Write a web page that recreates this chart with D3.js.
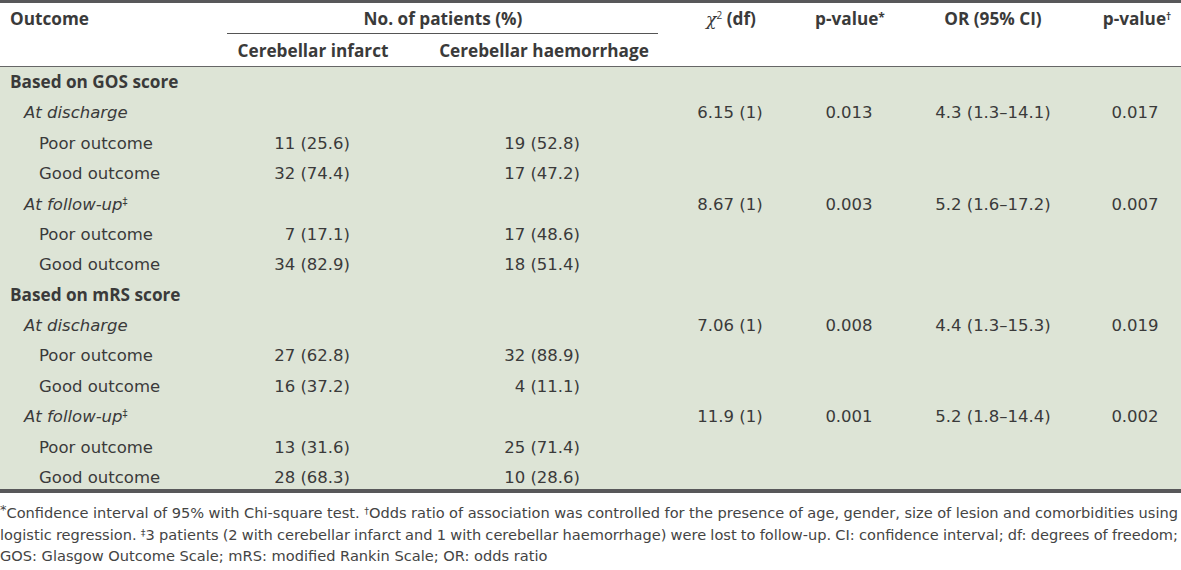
<!DOCTYPE html>
<html><head><meta charset="utf-8">
<script src="https://cdn.jsdelivr.net/npm/d3@7"></script>
<style>body{margin:0;background:#fff}svg{display:block}</style>
</head><body><svg id="c" width="1181" height="570"></svg>
<script>
// ---- data ----
const rowLabels = ["Based on GOS score","At discharge","Poor outcome","Good outcome","At follow-up","Poor outcome","Good outcome",
                   "Based on mRS score","At discharge","Poor outcome","Good outcome","At follow-up","Poor outcome","Good outcome"];
const rowLevels = [0,1,2,2,1,2,2,0,1,2,2,1,2,2];
const rowMarks  = ["","","","","‡","","","","","","","‡","",""];
const infarct     = ["","","11 (25.6)","32 (74.4)","","7 (17.1)","34 (82.9)","","","27 (62.8)","16 (37.2)","","13 (31.6)","28 (68.3)"];
const haemorrhage = ["","","19 (52.8)","17 (47.2)","","17 (48.6)","18 (51.4)","","","32 (88.9)","4 (11.1)","","25 (71.4)","10 (28.6)"];
const chiSquare   = ["","6.15 (1)","","","8.67 (1)","","","","7.06 (1)","","","11.9 (1)","",""];
const pValueChi   = ["","0.013","","","0.003","","","","0.008","","","0.001","",""];
const oddsRatio   = ["","4.3 (1.3–14.1)","","","5.2 (1.6–17.2)","","","","4.4 (1.3–15.3)","","","5.2 (1.8–14.4)","",""];
const pValueOR    = ["","0.017","","","0.007","","","","0.019","","","0.002","",""];
const footnotes = [
  [["*","sup"],["Confidence interval of 95% with Chi-square test. ",""],["†","sup"],["Odds ratio of association was controlled for the presence of age, gender, size of lesion and comorbidities using",""]],
  [["logistic regression. ",""],["‡","sup"],["3 patients (2 with cerebellar infarct and 1 with cerebellar haemorrhage) were lost to follow-up. CI: confidence interval; df: degrees of freedom;",""]],
  [["GOS: Glasgow Outcome Scale; mRS: modified Rankin Scale; OR: odds ratio",""]]
];

// ---- layout ----
const W = 1181;
const BODY_FONT = "'DejaVu Sans', sans-serif";
const BOLD_FONT = "'Open Sans', sans-serif";
const INK = "#3a3a3a";
const svg = d3.select("#c").attr("font-family", BODY_FONT);

const y = d3.scaleLinear().domain([0, rowLabels.length - 1]).range([88, 483]);
const colKeys = ["infarct","haemorrhage","chi","p1","or","p2"];
const colX = d3.scaleOrdinal().domain(colKeys).range([350, 580, 730, 849, 993, 1135]);
const colAnchor = d3.scaleOrdinal().domain(colKeys).range(["end","end","middle","middle","middle","middle"]);
const colData = {infarct, haemorrhage, chi: chiSquare, p1: pValueChi, or: oddsRatio, p2: pValueOR};
const indent = d3.scaleOrdinal().domain([0,1,2]).range([10, 24, 39]);

// background and rules
svg.append("rect").attr("x",0).attr("y",67).attr("width",W).attr("height",489-67).attr("fill","#dde4d6");
svg.append("rect").attr("x",0).attr("y",0).attr("width",W).attr("height",3).attr("fill","#58585a");
svg.append("line").attr("x1",227).attr("x2",658).attr("y1",33.5).attr("y2",33.5).attr("stroke","#555").attr("stroke-width",1);
svg.append("line").attr("x1",0).attr("x2",W).attr("y1",66.5).attr("y2",66.5).attr("stroke","#666").attr("stroke-width",1.2);
svg.append("rect").attr("x",0).attr("y",489).attr("width",W).attr("height",4).attr("fill","#58585a");

// headers
const hdr = svg.append("g").attr("font-family",BOLD_FONT).attr("font-weight","bold").attr("font-size",17.2).attr("fill",INK);
hdr.append("text").attr("x",10).attr("y",25).text("Outcome");
hdr.append("text").attr("x",443).attr("y",25).attr("text-anchor","middle").text("No. of patients (%)");
hdr.append("text").attr("x",313).attr("y",57).attr("text-anchor","middle").text("Cerebellar infarct");
hdr.append("text").attr("x",544).attr("y",57).attr("text-anchor","middle").text("Cerebellar haemorrhage");
const chiH = hdr.append("text").attr("x",731).attr("y",25).attr("text-anchor","middle");
chiH.append("tspan").attr("font-weight","normal").attr("font-family","'DejaVu Serif', serif").attr("font-style","italic").text("χ");
chiH.append("tspan").attr("font-size",10).attr("font-weight","normal").attr("dy",-6).text("2");
chiH.append("tspan").attr("dy",6).text(" (df)");
const p1H = hdr.append("text").attr("x",850).attr("y",25).attr("text-anchor","middle");
p1H.append("tspan").text("p-value");
p1H.append("tspan").attr("font-size",12).attr("dy",-3).text("*");
hdr.append("text").attr("x",993).attr("y",25).attr("text-anchor","middle").text("OR (95% CI)");
const p2H = hdr.append("text").attr("x",1137).attr("y",25).attr("text-anchor","middle");
p2H.append("tspan").text("p-value");
p2H.append("tspan").attr("font-size",10).attr("dy",-5).text("†");

// row labels
const body = svg.append("g").attr("font-size",16.5).attr("fill",INK);
const lab = body.selectAll("text.lab").data(rowLabels).join("text").attr("class","lab")
  .attr("x",(d,i)=>indent(rowLevels[i]))
  .attr("y",(d,i)=>y(i))
  .attr("font-family",(d,i)=>rowLevels[i]===0?BOLD_FONT:BODY_FONT)
  .attr("font-size",(d,i)=>rowLevels[i]===0?17.2:16.5)
  .attr("font-weight",(d,i)=>rowLevels[i]===0?"bold":"normal")
  .attr("font-style",(d,i)=>rowLevels[i]===1?"italic":"normal");
lab.append("tspan").text(d=>d);
lab.each(function(d,i){
  if(rowMarks[i]) d3.select(this).append("tspan").attr("font-size",10).attr("font-style","normal").attr("dy",-5).text(rowMarks[i]);
});

// value cells
colKeys.forEach(k=>{
  body.selectAll("text.c-"+k).data(colData[k]).join("text").attr("class","c-"+k)
    .attr("x",colX(k)).attr("y",(d,i)=>y(i)).attr("text-anchor",colAnchor(k)).text(d=>d);
});

// footnotes
const fy = d3.scaleLinear().domain([0,2]).range([518, 561]);
const fn = svg.append("g").attr("font-size",14.6).attr("fill","#444");
footnotes.forEach((parts,li)=>{
  const t = fn.append("text").attr("x",0).attr("y",fy(li));
  parts.forEach(([s,kind],i)=>{
    const ts = t.append("tspan").text(s);
    if(kind==="sup"){ ts.attr("font-size",s==="*"?13:9.5).attr("dy",-4); }
    else if(i>0 && parts[i-1][1]==="sup"){ ts.attr("dy",4); }
  });
  if(li<2){
    const len = t.node().getComputedTextLength();
    const spaces = parts.map(p=>p[0]).join("").split(" ").length-1;
    t.attr("word-spacing",(1178-len)/spaces);
  }
});
</script></body></html>
